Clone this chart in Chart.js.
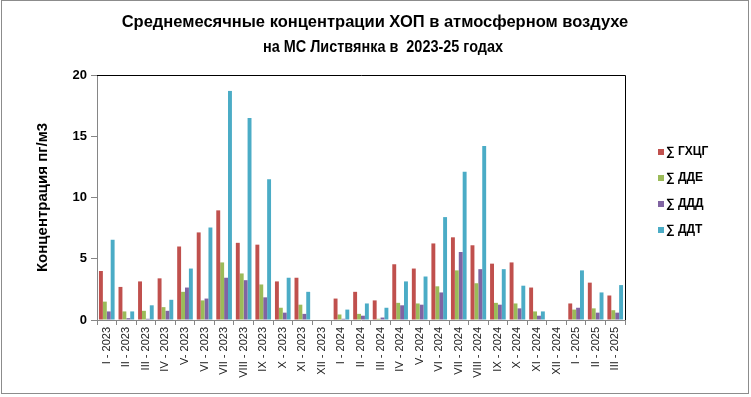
<!DOCTYPE html>
<html>
<head>
<meta charset="utf-8">
<script src="https://cdn.jsdelivr.net/npm/chart.js@4.4.1/dist/chart.umd.min.js"></script>
<style>
  body { margin: 0; background: #fff; }
  #wrap { position: relative; width: 751px; height: 397px; }
  #frame { position: absolute; left: 1px; top: 0; width: 746px; height: 392px; border: 1px solid #8c8c8c; pointer-events: none; }
</style>
</head>
<body>
<div id="wrap">
  <canvas id="myChart" width="751" height="397"></canvas>
  <div id="frame"></div>
</div>
<script>
const months = ["I", "II", "III", "IV", "V", "VI", "VII", "VIII", "IX", "X", "XI", "XII"];
const labels = [];
for (const y of [2023, 2024]) {
  for (const m of months) labels.push(m + (m == "V" ? "" : " ") + "- " + y);
}
labels.push("I - 2025", "II - 2025", "III - 2025");

const titleLines = ["Среднемесячные концентрации ХОП в атмосферном воздухе", "на МС Листвянка в  2023-25 годах"];
const yTitle = "Концентрация пг/м3";
const yTicks = [0, 5, 10, 15, 20];

const hch = [4.0, 2.7, 3.15, 3.4, 6.0, 7.15, 8.95, 6.3, 6.15, 3.15, 3.45, 0,
             1.75, 2.3, 1.6, 4.55, 4.2, 6.25, 6.75, 6.1, 4.6, 4.7, 2.65, 0,
             1.35, 3.05, 2.0];
const dde = [1.5, 0.7, 0.75, 1.05, 2.3, 1.6, 4.7, 3.8, 2.9, 1.0, 1.25, 0,
             0.45, 0.5, 0.1, 1.4, 1.35, 2.75, 4.05, 3.0, 1.4, 1.35, 0.7, 0,
             0.85, 0.95, 0.8];
const ddd = [0.7, 0.15, 0.1, 0.75, 2.65, 1.75, 3.45, 3.25, 1.85, 0.6, 0.5, 0,
             0.1, 0.35, 0.2, 1.2, 1.25, 2.25, 5.55, 4.15, 1.25, 0.95, 0.35, 0,
             1.0, 0.6, 0.6];
const ddt = [6.55, 0.7, 1.2, 1.65, 4.2, 7.55, 18.7, 16.5, 11.5, 3.45, 2.3, 0,
             0.85, 1.35, 1.0, 3.15, 3.55, 8.4, 12.1, 14.2, 4.15, 2.8, 0.7, 0,
             4.05, 2.25, 2.85];

const seriesNames = ["∑ ГХЦГ", "∑ ДДЕ", "∑ ДДД", "∑ ДДТ"];
const seriesColors = ["#C0504D", "#9BBB59", "#8064A2", "#4BACC6"];

const decor = {
  id: "decor",
  afterDraw(chart) {
    const ctx = chart.ctx;
    const a = chart.chartArea;
    ctx.save();
    // plot area top and right border
    ctx.strokeStyle = "#000";
    ctx.lineWidth = 1;
    ctx.beginPath();
    ctx.moveTo(a.left, a.top + 0.5);
    ctx.lineTo(a.right + 0.5, a.top + 0.5);
    ctx.lineTo(a.right + 0.5, a.bottom);
    ctx.stroke();

    // title
    ctx.fillStyle = "#000";
    ctx.textAlign = "center";
    ctx.textBaseline = "middle";
    ctx.font = "bold 16.5px 'Liberation Sans', Arial, sans-serif";
    ctx.fillText(titleLines[0], 375, 22);
    ctx.fillText(titleLines[1], 383, 47, 240);

    // y axis title
    ctx.save();
    ctx.translate(43, (a.top + a.bottom) / 2);
    ctx.rotate(-Math.PI / 2);
    ctx.font = "bold 15px 'Liberation Sans', Arial, sans-serif";
    ctx.fillText(yTitle, 0, 0);
    ctx.restore();

    // legend
    ctx.textAlign = "left";
    ctx.font = "bold 12px 'Liberation Sans', Arial, sans-serif";
    chart.data.datasets.forEach((ds, i) => {
      const y = 152 + i * 26;
      ctx.fillStyle = ds.backgroundColor;
      ctx.fillRect(658, y - 3, 6, 6);
      ctx.fillStyle = "#000";
      ctx.fillText(ds.label, 666, y);
    });
    ctx.restore();
  }
};

new Chart(document.getElementById("myChart"), {
  type: "bar",
  data: {
    labels: labels,
    datasets: [hch, dde, ddd, ddt].map((d, i) => ({
      label: seriesNames[i],
      data: d,
      backgroundColor: seriesColors[i],
      borderWidth: 0,
      categoryPercentage: 0.8,
      barPercentage: 1.0
    }))
  },
  options: {
    responsive: false,
    animation: false,
    layout: { padding: { top: 75, right: 126, left: 0, bottom: 0 } },
    plugins: { legend: { display: false }, title: { display: false }, tooltip: { enabled: false } },
    scales: {
      x: {
        afterFit: (s) => { s.height = 77; },
        grid: { display: true, drawOnChartArea: false, drawTicks: true, tickLength: 5, color: "#868686", offset: true },
        border: { color: "#868686" },
        ticks: {
          autoSkip: false, minRotation: 90, maxRotation: 90, padding: 2,
          color: "#222", font: { family: "'Liberation Sans', Arial, sans-serif", size: 11 }
        }
      },
      y: {
        min: 0, max: 20,
        afterFit: (s) => { s.width = 97; },
        afterBuildTicks: (s) => { s.ticks = yTicks.map(v => ({ value: v })); },
        grid: { display: true, drawOnChartArea: false, drawTicks: true, tickLength: 6, color: "#868686" },
        border: { color: "#868686" },
        ticks: {
          padding: 4, color: "#000",
          font: { family: "'Liberation Sans', Arial, sans-serif", size: 13, weight: "bold" }
        }
      }
    }
  },
  plugins: [decor]
});
</script>
</body>
</html>
